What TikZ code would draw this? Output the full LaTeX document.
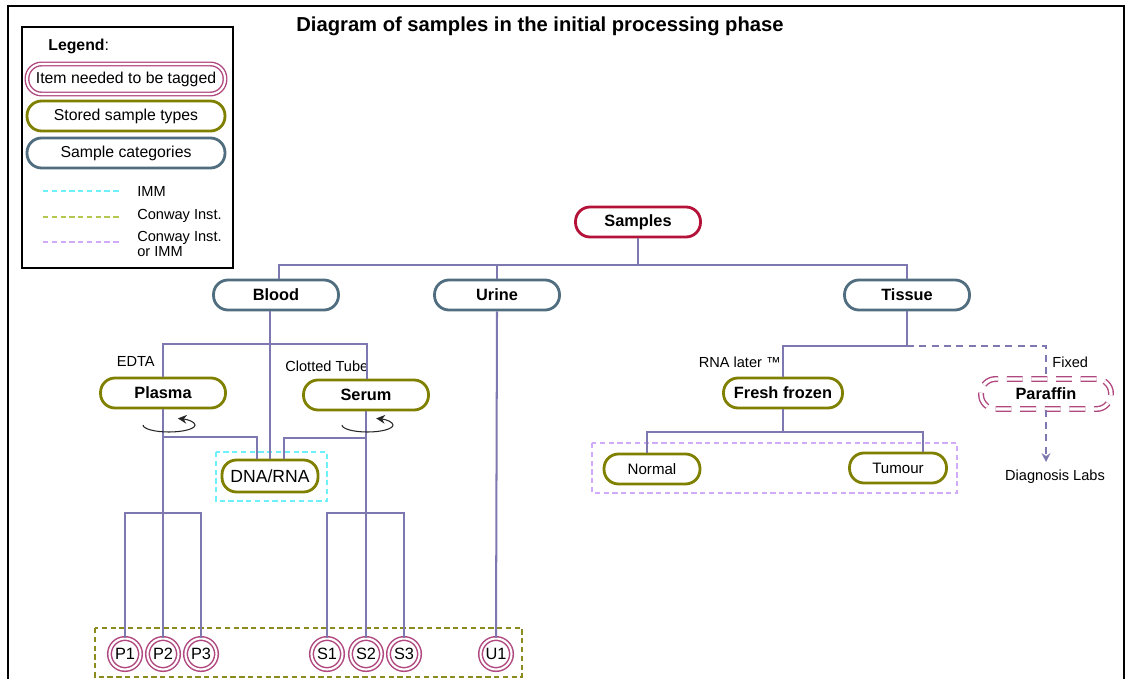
\documentclass[tikz,border=0pt]{standalone}
\usepackage{fontspec}
\setmainfont{Liberation Sans}
\usetikzlibrary{arrows.meta}

\definecolor{connc}{RGB}{125,120,175}
\definecolor{catc}{RGB}{80,110,128}
\definecolor{olivec}{RGB}{128,128,0}
\definecolor{rootc}{RGB}{181,18,58}
\definecolor{tagc}{RGB}{176,72,128}
\definecolor{immc}{RGB}{110,240,250}
\definecolor{conwayc}{RGB}{180,200,80}
\definecolor{boxolive}{RGB}{140,140,30}
\definecolor{lavc}{RGB}{210,170,250}

\tikzset{
  pill/.style={rectangle, rounded corners=0.29cm, inner sep=0pt,
    minimum width=2.5cm, minimum height=0.6cm, line width=1.6pt,
    font=\bfseries\fontsize{9.3}{11}\selectfont},
  rootbox/.style={pill, draw=rootc},
  catbox/.style={pill, draw=catc},
  storebox/.style={pill, draw=olivec},
  tagbox/.style={pill, draw=tagc, line width=0.8pt, double=white,
    double distance=1.2pt, font=\fontsize{9}{11}\selectfont},
  tagcirc/.style={circle, draw=tagc, line width=0.85pt, double=white,
    double distance=1.2pt, inner sep=0pt, minimum size=0.62cm,
    font=\fontsize{9.3}{11}\selectfont},
  paraffinbox/.style={pill, draw=tagc, line width=0.8pt, double=white,
    double distance=1.8pt, dash pattern=on 9pt off 5pt},
  conn/.style={draw=connc, line width=1.15pt},
  dconn/.style={conn, dash pattern=on 4pt off 3pt},
  label/.style={inner sep=0pt, font=\fontsize{8.3}{10}\selectfont},
  rot/.style={draw=black!85, line width=0.6pt, -{Stealth[length=5pt,width=5pt]}},
  immline/.style={draw=immc, line width=0.7pt, dash pattern=on 3pt off 2pt},
  conwayline/.style={draw=conwayc, line width=0.7pt, dash pattern=on 3pt off 2pt},
  lavline/.style={draw=lavc, line width=0.7pt, dash pattern=on 3pt off 2pt},
}

\begin{document}
\begin{tikzpicture}[x=0.02cm, y=-0.02cm]
\useasboundingbox (0,0) rectangle (1125,679);
\fill[white] (0,0) rectangle (1125,679);

% outer frame
\draw[line width=1.4pt] (8,700) -- (8,6) -- (1124,6) -- (1124,700);

% title
\node[inner sep=0pt, font=\bfseries\fontsize{11.5}{13}\selectfont] (title) at (540,26)
  {Diagram of samples in the initial processing phase};

% legend
\draw[line width=1.2pt] (22,27) rectangle (233,268);
\node[anchor=west, inner sep=0pt, font=\fontsize{9}{11}\selectfont] (legtitle) at (48,46)
  {\textbf{Legend}:};
\node[tagbox, minimum width=3.96cm] (lg1) at (126,79) {Item needed to be tagged};
\node[storebox, minimum width=3.96cm, font=\fontsize{9}{11}\selectfont] (lg2) at (126,116) {Stored sample types};
\node[catbox, minimum width=3.96cm, font=\fontsize{9}{11}\selectfont] (lg3) at (126,153) {Sample categories};
\draw[immline] (43,191) -- (121,191);
\draw[conwayline] (43,217) -- (121,217);
\draw[lavline] (43,242) -- (121,242);
\node[label, anchor=west] (lgimm) at (137,191) {IMM};
\node[label, anchor=west] (lgcon) at (137,216) {Conway Inst.};
\node[label, anchor=west, align=left, font=\fontsize{8.3}{8.6}\selectfont] (lgboth) at (137,244) {Conway Inst.\\or IMM};

% grouping boxes
\draw[immline] (216,452) rectangle (327,501);
\draw[lavline] (592,443) rectangle (957,493);
\draw[draw=boxolive, line width=0.7pt, dash pattern=on 3pt off 2pt] (95,628) rectangle (522,677);

% main nodes
\node[rootbox] (Samples) at (638,222) {Samples};
\node[catbox] (Blood) at (276,295) {Blood};
\node[catbox] (Urine) at (497,295) {Urine};
\node[catbox] (Tissue) at (907,295) {Tissue};
\node[storebox] (Plasma) at (163,393) {Plasma};
\node[storebox] (Serum) at (366,395) {Serum};
\node[storebox, minimum width=1.92cm, minimum height=0.64cm, font=\fontsize{10}{12}\selectfont] (DNA) at (270,476) {DNA/RNA};
\node[storebox, minimum width=2.38cm] (Fresh) at (783,393) {Fresh frozen};
\node[paraffinbox, minimum width=2.6cm] (Paraffin) at (1046,394) {Paraffin};
\node[storebox, minimum width=1.92cm, font=\fontsize{8.6}{10}\selectfont] (Normal) at (652,469) {Normal};
\node[storebox, minimum width=1.94cm, font=\fontsize{8.6}{10}\selectfont] (Tumour) at (898,468) {Tumour};

\node[tagcirc] (P1) at (125,654) {P1};
\node[tagcirc] (P2) at (163,654) {P2};
\node[tagcirc] (P3) at (201,654) {P3};
\node[tagcirc] (S1) at (327,654) {S1};
\node[tagcirc] (S2) at (366,654) {S2};
\node[tagcirc] (S3) at (404,654) {S3};
\node[tagcirc] (U1) at (496,654) {U1};

% labels
\node[label, anchor=east] (edta) at (155,361) {EDTA};
\node[label, anchor=west] (clot) at (285,366) {Clotted Tube};
\node[label, anchor=east] (rnalater) at (781,362) {RNA later ™};
\node[label, anchor=west] (fixed) at (1052,362) {Fixed};
\node[label] (diag) at (1055,477) {Diagnosis Labs};

% top level branches
\coordinate (bar) at (638,265);
\draw[conn] (Samples.south) -- (bar);
\draw[conn] (Blood.north -| 279,0) -- (279,265) -- (907,265) -- (Tissue.north);
\draw[conn] (Urine.north) -- (Urine.north |- bar);

% blood
\draw[conn] (Blood.south -| 270,0) -- (DNA.north -| 270,0);
\draw[conn] (Plasma.north) |- (367,344) -- (Serum.north -| 367,0);
\draw[conn] (Plasma.south) -- (P2.north);
\draw[conn] (Serum.south) -- (S2.north);
\coordinate (pj) at (163,437);
\coordinate (sj) at (366,438);
\draw[conn] (pj) -| (DNA.north -| 257,0);
\draw[conn] (sj) -| (DNA.north -| 284,0);
\draw[conn] (P1.north) |- (201,513) -- (P3.north);
\draw[conn] (S1.north) |- (404,513) -- (S3.north);
\draw[conn] (Urine.south) -- (U1.north);

% centrifuge marks
\draw[rot] (143,425) arc[start angle=180, end angle=430, x radius=0.52cm, y radius=0.14cm];
\draw[rot] (342,425) arc[start angle=180, end angle=430, x radius=0.51cm, y radius=0.14cm];

% tissue
\coordinate (tj) at (907,346);
\draw[conn] (Tissue.south) -- (tj) -| (Fresh.north);
\draw[dconn] (tj) -| (Paraffin.north);
\draw[dconn, -{Stealth[length=5pt,width=5pt]}] (Paraffin.south) -- (Paraffin.south |- 0,462);
\draw[conn] (Fresh.south) -- (Fresh.south |- 0,432);
\draw[conn] (Normal.north -| 647,0) |- (923,432) -- (Tumour.north -| 923,0);
\end{tikzpicture}
\end{document}
